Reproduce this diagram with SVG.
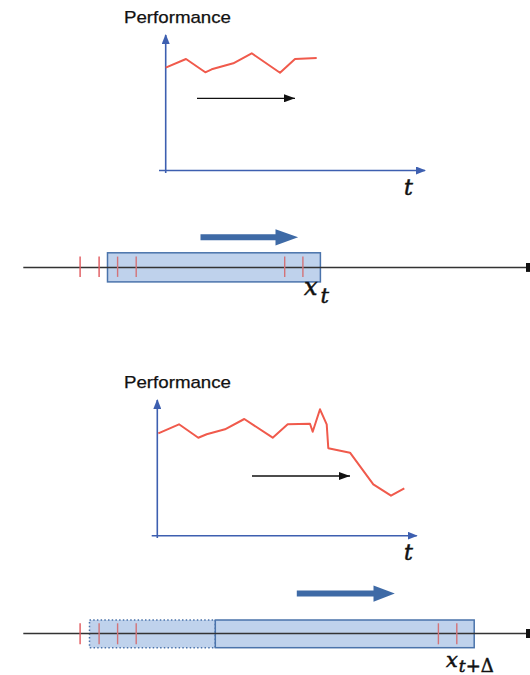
<svg xmlns="http://www.w3.org/2000/svg" width="530" height="675" viewBox="0 0 530 675">
  <defs>
    <marker id="axisHead" viewBox="0 0 10 8" refX="9" refY="4" markerWidth="10" markerHeight="8" markerUnits="userSpaceOnUse" orient="auto">
      <path d="M0,0 L10,4 L0,8 Z" fill="#3d5fb0"/>
    </marker>
    <marker id="blackHead" viewBox="0 0 11 8" refX="11" refY="4" markerWidth="11" markerHeight="8" markerUnits="userSpaceOnUse" orient="auto">
      <path d="M0,0 L11,4 L0,8 Z" fill="#111"/>
    </marker>
    <marker id="lineEnd" viewBox="0 0 4 9" refX="0" refY="4.5" markerWidth="4" markerHeight="9" markerUnits="userSpaceOnUse" orient="auto">
      <rect x="0" y="0" width="4" height="9" fill="#111"/>
    </marker>
  </defs>
  <style>
    .title { font-family: "Liberation Sans", Arial, sans-serif; font-size: 17px; fill: #111; stroke: #111; stroke-width: 0.25; }
    .math { font-family: "DejaVu Serif", "Liberation Serif", serif; font-style: italic; fill: #111; stroke: #111; stroke-width: 0.5; }
    .upright { font-style: normal; }
    .axis { stroke: #3d5fb0; stroke-width: 1.6; fill: none; marker-end: url(#axisHead); }
    .perf { stroke: #f05a4c; stroke-width: 2; fill: none; stroke-linejoin: round; }
    .move { stroke: #111; stroke-width: 1.3; fill: none; marker-end: url(#blackHead); }
    .timeline { stroke: #333; stroke-width: 1.5; fill: none; marker-end: url(#lineEnd); }
    .window { fill: #bfd2ec; stroke: #4a73ab; stroke-width: 1.5; }
    .window-old { fill: #bfd2ec; stroke: #4a73ab; stroke-width: 1.5; stroke-dasharray: 1.5 2.2; }
    .tick { stroke: #e0575c; stroke-width: 1.4; }
    .tick-in { stroke: #d37378; stroke-width: 1.4; }
    .shift { fill: #3e6aa6; }
  </style>

  <!-- upper performance chart -->
  <g id="chart-top">
    <text class="title" x="124" y="23" textLength="107" lengthAdjust="spacingAndGlyphs">Performance</text>
    <line class="axis" x1="165.7" y1="173" x2="165.7" y2="35"/>
    <line class="axis" x1="159" y1="170.5" x2="425" y2="170.5"/>
    <polyline class="perf" points="165.7,67.7 186,59 205.3,72.3 211.7,69.3 233.3,63.3 251.7,53.3 280,72.7 295,59 316.7,58"/>
    <text class="math" x="404" y="195" font-size="22">t</text>
  </g>

  <!-- upper time window -->
  <g id="window-top">
    <rect class="window" x="107.5" y="252.8" width="212.9" height="29.1"/>
  </g>

  <!-- lower performance chart -->
  <g id="chart-bottom">
    <text class="title" x="124" y="388" textLength="107" lengthAdjust="spacingAndGlyphs">Performance</text>
    <line class="axis" x1="157.3" y1="538" x2="157.3" y2="400"/>
    <line class="axis" x1="151.7" y1="535.7" x2="416.7" y2="535.7"/>
    <polyline class="perf" points="158.3,433.3 179,424.3 198.3,437.7 206.7,434.3 225,429.3 244.3,419 272.7,437.7 287.7,424.3 310,423.7 312.7,431.7 320,409.3 326.7,424.3 328.3,448.3 350,452.7 373.3,484.3 391,495.7 404.3,488.3"/>
    <text class="math" x="404" y="560" font-size="22">t</text>
  </g>

  <!-- lower time windows: previous (dotted) and current -->
  <g id="window-bottom-old">
    <rect class="window-old" x="89.5" y="620" width="125.8" height="27.7"/>
  </g>
  <g id="window-bottom">
    <rect class="window" x="215.3" y="620" width="258.9" height="27.7"/>
  </g>

  <!-- connectors: time axes, motion arrows, event ticks -->
  <g id="connectors">
    <line class="move" x1="197" y1="98.3" x2="295" y2="98.3"/>
    <line class="move" x1="252" y1="476" x2="350" y2="476"/>

    <line class="timeline" x1="23.3" y1="267.4" x2="526" y2="267.4"/>
    <line class="timeline" x1="23.3" y1="633.5" x2="526" y2="633.5"/>

    <path class="shift" d="M200.5,234.3 L275.5,234.3 L275.5,229.2 L298.1,237.3 L275.5,245.4 L275.5,240.3 L200.5,240.3 Z"/>
    <path class="shift" d="M296.8,590.6 L373.5,590.6 L373.5,585.5 L394.8,593.6 L373.5,601.7 L373.5,596.6 L296.8,596.6 Z"/>

    <line class="tick" x1="80.1" y1="256.6" x2="80.1" y2="276.9"/>
    <line class="tick" x1="99.1" y1="256.6" x2="99.1" y2="276.9"/>
    <line class="tick-in" x1="117.6" y1="256.6" x2="117.6" y2="276.9"/>
    <line class="tick-in" x1="136.2" y1="256.6" x2="136.2" y2="276.9"/>
    <line class="tick-in" x1="284.7" y1="256.6" x2="284.7" y2="276.9"/>
    <line class="tick-in" x1="302.9" y1="256.6" x2="302.9" y2="276.9"/>

    <line class="tick" x1="80.1" y1="623.3" x2="80.1" y2="644.3"/>
    <line class="tick-in" x1="99.1" y1="623.3" x2="99.1" y2="644.3"/>
    <line class="tick-in" x1="117.6" y1="623.3" x2="117.6" y2="644.3"/>
    <line class="tick-in" x1="136.2" y1="623.3" x2="136.2" y2="644.3"/>
    <line class="tick-in" x1="438.4" y1="623.3" x2="438.4" y2="644.3"/>
    <line class="tick-in" x1="456.8" y1="623.3" x2="456.8" y2="644.3"/>
  </g>

  <!-- window labels -->
  <g id="labels">
    <text class="math" x="304" y="295" font-size="24">x<tspan font-size="21" dx="3" dy="8">t</tspan></text>
    <text class="math" x="446" y="667" font-size="21">x<tspan font-size="17" dx="1" dy="5">t</tspan><tspan class="upright" font-size="18">+Δ</tspan></text>
  </g>
</svg>
